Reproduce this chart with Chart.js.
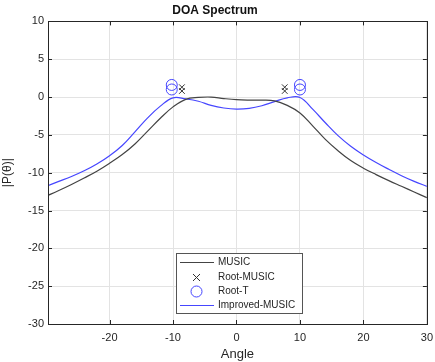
<!DOCTYPE html>
<html>
<head>
<meta charset="utf-8">
<script src="https://cdn.jsdelivr.net/npm/chart.js@4"></script>
<style>
  html, body { margin: 0; padding: 0; background: #fff; overflow: hidden; }
  #wrap { width: 435px; height: 362px; overflow: hidden; }
</style>
</head>
<body>
<div id="wrap"><canvas id="myChart" width="440" height="362"></canvas></div>
<script>
const angles = [-30, -28, -26, -24, -22, -20, -18, -16, -14, -12, -10, -8, -6, -4, -2, 0,
  2, 4, 6, 8, 10, 12, 14, 16, 18, 20, 22, 24, 26, 28, 30];
const musicDb = [-13.1, -12.35, -11.55, -10.7, -9.8, -8.75, -7.6, -6.2, -4.5, -2.8, -1.3, -0.3, -0.05, 0.0, -0.2, -0.35,
  -0.4, -0.4, -0.5, -1.1, -2.1, -3.8, -5.6, -7.1, -8.4, -9.4, -10.25, -11.05, -11.8, -12.55, -13.3];
const improvedDb = [-11.8, -11.15, -10.5, -9.75, -8.85, -7.75, -6.4, -4.6, -2.75, -1.2, -0.1, -0.25, -0.55, -1.1, -1.45, -1.6,
  -1.5, -1.15, -0.6, -0.1, -0.05, -1.6, -3.4, -5.1, -6.5, -7.65, -8.65, -9.55, -10.4, -11.15, -11.8];
const rootMusicX = [-8.6, -8.6, 7.6, 7.6];
const rootMusicY = [1.3, 0.8, 1.3, 0.8];
const rootTX = [-10.2, -10.2, 10.0, 10.0];
const rootTY = [1.6, 1.0, 1.6, 1.0];
const xTicks = [-20, -10, 0, 10, 20, 30];

const ink = "#262626";
const blue = "rgb(70, 70, 255)";
const font = "'Liberation Sans', Arial, sans-serif";

const toPts = (xs, ys) => xs.map((x, i) => ({ x: x, y: ys[i] }));

//legend + axes box drawn by hand, MATLAB style
const boxPlugin = {
  id: "boxPlugin",
  afterDraw(chart) {
    const c = chart.ctx;
    const a = chart.chartArea;
    const xs = chart.scales.x, ys = chart.scales.y;
    c.save();
    c.strokeStyle = ink;
    c.lineWidth = 1;
    c.beginPath();
    xTicks.forEach(v => {
      const px = Math.round(xs.getPixelForValue(v)) + 0.5;
      c.moveTo(px, a.bottom); c.lineTo(px, a.bottom - 4);
      c.moveTo(px, a.top); c.lineTo(px, a.top + 4);
    });
    for (let v = -30; v <= 10; v += 5) {
      const py = Math.round(ys.getPixelForValue(v)) + 0.5;
      c.moveTo(a.left, py); c.lineTo(a.left + 4, py);
      c.moveTo(a.right, py); c.lineTo(a.right - 4, py);
    }
    c.stroke();
    c.strokeRect(Math.round(a.left) + 0.5, Math.round(a.top) + 0.5,
      Math.round(a.right - a.left), Math.round(a.bottom - a.top));

    // legend
    const lx = 176.5, ly = 253.5, lw = 126, lh = 60;
    c.fillStyle = "#fff";
    c.fillRect(lx, ly, lw, lh);
    c.strokeStyle = "#555";
    c.strokeRect(lx, ly, lw, lh);
    const rows = [262.5, 277.5, 291.5, 305.5];
    const names = ["MUSIC", "Root-MUSIC", "Root-T", "Improved-MUSIC"];
    c.font = "10px " + font;
    c.textBaseline = "middle";
    c.fillStyle = ink;
    names.forEach((n, i) => c.fillText(n, 218, rows[i]));
    c.lineWidth = 1.2;
    c.strokeStyle = "#444";
    c.beginPath(); c.moveTo(180, rows[0]); c.lineTo(214, rows[0]); c.stroke();
    c.strokeStyle = blue;
    c.beginPath(); c.moveTo(180, rows[3]); c.lineTo(214, rows[3]); c.stroke();
    c.lineWidth = 1;
    c.strokeStyle = "#333";
    c.beginPath();
    c.moveTo(193, rows[1] - 3.5); c.lineTo(200, rows[1] + 3.5);
    c.moveTo(200, rows[1] - 3.5); c.lineTo(193, rows[1] + 3.5);
    c.stroke();
    c.strokeStyle = blue;
    c.beginPath(); c.arc(196.5, rows[2], 5.5, 0, Math.PI * 2); c.stroke();
    c.restore();
  }
};

const data = {
  datasets: [
    {
      label: "MUSIC",
      data: toPts(angles, musicDb),
      borderColor: "#444",
      borderWidth: 1.2,
      pointRadius: 0,
      tension: 0.4,
    },
    {
      label: "Root-MUSIC",
      type: "scatter",
      data: toPts(rootMusicX, rootMusicY),
      pointStyle: "crossRot",
      pointRadius: 4,
      borderColor: "#333",
      borderWidth: 1,
    },
    {
      label: "Root-T",
      type: "scatter",
      data: toPts(rootTX, rootTY),
      pointStyle: "circle",
      pointRadius: 5.5,
      borderColor: blue,
      backgroundColor: "rgba(0,0,0,0)",
      borderWidth: 1,
    },
    {
      label: "Improved-MUSIC",
      data: toPts(angles, improvedDb),
      borderColor: blue,
      borderWidth: 1.2,
      pointRadius: 0,
      tension: 0.4,
    },
  ],
};

const config = {
  type: "line",
  data: data,
  options: {
    responsive: false,
    animation: false,
    layout: { padding: { top: 0, right: 10, left: 0, bottom: 0 } },
    plugins: {
      legend: { display: false },
      tooltip: { enabled: false },
      title: {
        display: true,
        text: "DOA Spectrum",
        color: "#111",
        font: { family: font, size: 12, weight: "bold" },
        padding: { top: 3, bottom: 4 },
      },
    },
    scales: {
      x: {
        type: "linear",
        min: -29.7,
        max: 30,
        afterBuildTicks: (axis) => { axis.ticks = xTicks.map(v => ({ value: v })); },
        afterFit: (axis) => { axis.height = 38; },
        grid: { color: "#e3e3e3", drawTicks: false },
        border: { display: false },
        ticks: { color: ink, padding: 7, maxRotation: 0, font: { family: font, size: 11 } },
        title: { display: true, text: "Angle", color: ink, padding: 0, font: { family: font, size: 13 } },
      },
      y: {
        min: -30,
        max: 10,
        afterFit: (axis) => { axis.width = 48; },
        grid: { color: "#e3e3e3", drawTicks: false },
        border: { display: false },
        ticks: { stepSize: 5, color: ink, padding: 4, font: { family: font, size: 11 } },
        title: { display: true, text: "|P(θ)|", color: ink, padding: 0, font: { family: font, size: 12 } },
      },
    },
  },
  plugins: [boxPlugin],
};

const myChart = new Chart(document.getElementById("myChart").getContext("2d"), config);
</script>
</body>
</html>
